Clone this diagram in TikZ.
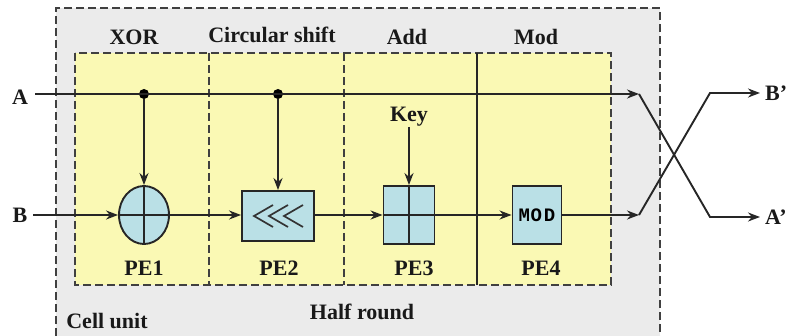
\documentclass[tikz,border=0pt]{standalone}
\usepackage{fontspec}
\setmainfont{Liberation Serif}
\newfontfamily\modfont{Liberation Mono}
\usetikzlibrary{shapes.geometric, arrows.meta}

\definecolor{cellgray}{RGB}{235,235,235}
\definecolor{peyellow}{RGB}{250,249,180}
\definecolor{peblue}{RGB}{186,224,230}

\begin{document}
\begin{tikzpicture}[x=1pt, y=-1pt,
    lbl/.style={font=\fontsize{22}{24}\selectfont\bfseries, inner sep=0pt, text=black!90},
    wire/.style={line width=1.9pt, black!85},
    flow/.style={wire, -{Stealth[length=12pt, width=9pt]}},
    bound/.style={line width=1.7pt, black!75, dash pattern=on 8pt off 4pt},
    pebox/.style={draw=black!85, line width=1.9pt, fill=peblue, rectangle, inner sep=0pt},
    dot/.style={circle, fill=black, minimum size=10pt, inner sep=0pt}]
    \useasboundingbox (0,0) rectangle (786,336);

    % Draw the cell unit
    \fill[cellgray] (56,8) rectangle (660,336);
    \draw[bound] (56,336) -- (56,8) -- (660,8) -- (660,336);

    % Draw the half round and its stages
    \draw[bound, fill=peyellow] (75,53) rectangle (611,285);
    \draw[bound] (209,53) -- (209,285);
    \draw[bound] (344,53) -- (344,285);
    \draw[wire] (477,53) -- (477,285);

    % Stage titles
    \node[lbl] (xor) at (134,37) {XOR};
    \node[lbl] (shift) at (272,35) {Circular shift};
    \node[lbl] (add) at (407,37) {Add};
    \node[lbl] (mod) at (536,37) {Mod};
    \node[lbl] (half) at (362,312) {Half round};
    \node[lbl] (cell) at (107,321) {Cell unit};

    % Processing elements
    \node[ellipse, draw=black!85, line width=1.9pt, fill=peblue, minimum width=50pt, minimum height=58pt, inner sep=0pt] (pe1) at (144,215) {};
    \node[pebox, minimum width=72pt, minimum height=50pt] (pe2) at (278,216) {};
    \node[pebox, minimum width=51pt, minimum height=58pt] (pe3) at (409,215) {};
    \node[pebox, minimum width=49pt, minimum height=58pt, font=\modfont\bfseries\fontsize{19}{19}\selectfont] (pe4) at (537,215) {M\kern0.5pt O\kern2pt D};
    \draw[wire] (pe1.north) -- (pe1.south);
    \draw[wire] (pe1.west) -- (pe1.east);
    \draw[wire] (pe3.north) -- (pe3.south);
    \draw[wire] (pe3.west) -- (pe3.east);
    \foreach \dx in {-24,-9,6} {
        \draw[line width=1.7pt, black!80, shift={(pe2.center)}] (\dx+19,-11) -- (\dx,0) -- (\dx+19,11);
    }
    \node[lbl] (pe1l) at (144,268) {PE1};
    \node[lbl] (pe2l) at (279,268) {PE2};
    \node[lbl] (pe3l) at (414,268) {PE3};
    \node[lbl] (pe4l) at (541,268) {PE4};

    % Inputs and outputs
    \node[lbl] (ina) at (20,97) {A};
    \node[lbl] (inb) at (20,215) {B};
    \node[lbl, anchor=west] (outb) at (765,93) {B'};
    \node[lbl, anchor=west] (outa) at (765,217) {A'};
    \node[lbl] (key) at (409,117) {Key};
    \coordinate (a0) at (35,94);
    \coordinate (b0) at (33,215);
    \coordinate (aend) at (639,94);
    \coordinate (bend) at (639,215);
    \coordinate (ka) at (710,217);
    \coordinate (kb) at (710,93);
    \node[dot] (xa) at (144,94) {};
    \node[dot] (sa) at (278,94) {};

    % Data path
    \draw[flow] (a0) -- (aend);
    \draw[flow] (xa) -- (pe1);
    \draw[flow] (sa) -- (pe2);
    \draw[flow] (key) -- (pe3);
    \draw[flow] (b0) -- (pe1);
    \draw[flow] (pe1.east) -- (pe1.east -| pe2.west);
    \draw[flow] (pe2.east |- pe3.west) -- (pe3.west);
    \draw[flow] (pe3) -- (pe4);
    \draw[flow] (pe4) -- (bend);

    % Swap of the halves
    \draw[flow, shorten >=5pt] (aend) -- (ka) -- (outa.west);
    \draw[flow, shorten >=5pt] (bend) -- (kb) -- (outb.west);
\end{tikzpicture}
\end{document}
